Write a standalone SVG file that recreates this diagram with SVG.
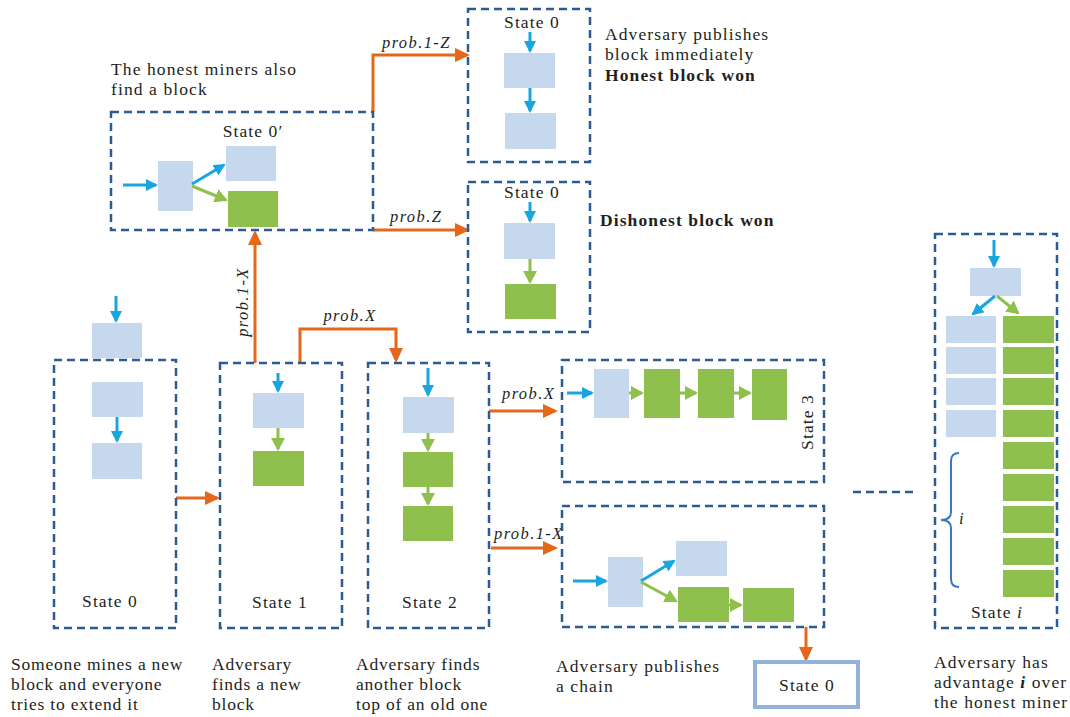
<svg xmlns="http://www.w3.org/2000/svg" width="1070" height="717" viewBox="0 0 1070 717" font-family="'Liberation Serif', 'DejaVu Serif', serif">
  <style>
    .frame { fill: none; stroke: #2c5b94; stroke-width: 2.5; stroke-dasharray: 8 5; }
    .bb { fill: #c5d8ee; }
    .gb { fill: #8fbf4c; }
    .ba { fill: none; stroke: #18a6e0; stroke-width: 3; marker-end: url(#ah-b); }
    .ga { fill: none; stroke: #8fbf4c; stroke-width: 3; marker-end: url(#ah-g); }
    .oa { fill: none; stroke: #e5671a; stroke-width: 3; marker-end: url(#ah-o); }
    text { font-family: 'Liberation Serif', 'DejaVu Serif', serif; font-size: 17.5px; fill: #231f20; letter-spacing: 1.1px; }
    .lbl { text-anchor: middle; }
    .p { font-style: italic; font-size: 16.5px; letter-spacing: 1.4px; }
    .b { font-weight: bold; }
    #captions text { letter-spacing: 0.8px; }
  </style>
  <defs>
    <marker id="ah-o" markerUnits="userSpaceOnUse" markerWidth="16" markerHeight="14" refX="12" refY="7" orient="auto">
      <path d="M0,0 L15,7 L0,14 z" fill="#e5671a"/>
    </marker>
    <marker id="ah-b" markerUnits="userSpaceOnUse" markerWidth="13" markerHeight="12" refX="10" refY="6" orient="auto">
      <path d="M0,0 L12,6 L0,12 z" fill="#18a6e0"/>
    </marker>
    <marker id="ah-g" markerUnits="userSpaceOnUse" markerWidth="14" markerHeight="14" refX="11" refY="7" orient="auto">
      <path d="M0,0 L13,7 L0,14 z" fill="#8fbf4c"/>
    </marker>
  </defs>

  <!-- transitions between states -->
  <g id="connectors">
    <path class="oa" d="M176,498 H217"/>
    <path class="oa" d="M255,363 V233"/>
    <path class="oa" d="M300,363 V329 H396 V360"/>
    <path class="oa" d="M373,112 V55 H467"/>
    <path class="oa" d="M373,230 H467"/>
    <path class="oa" d="M489,411 H555"/>
    <path class="oa" d="M491,548 H555"/>
    <path class="oa" d="M806,627 V659"/>
    <path d="M853,492 H913" fill="none" stroke="#2c5b94" stroke-width="2.5" stroke-dasharray="8 5"/>
    <text class="p" x="382" y="48">prob.1-Z</text>
    <text class="p" x="390" y="222">prob.Z</text>
    <text class="p lbl" transform="translate(248,302) rotate(-90)">prob.1-X</text>
    <text class="p lbl" x="350" y="321">prob.X</text>
    <text class="p" x="502" y="399">prob.X</text>
    <text class="p" x="494" y="539">prob.1-X</text>
  </g>

  <!-- State 0: start -->
  <g id="state0-start">
    <rect class="frame" x="54" y="360" width="122" height="268"/>
    <path class="ba" d="M116,296 V321"/>
    <rect class="bb" x="92" y="323" width="50" height="35"/>
    <rect class="bb" x="92" y="382" width="51" height="35"/>
    <path class="ba" d="M117,417 V441"/>
    <rect class="bb" x="92" y="443" width="50" height="36"/>
    <text class="lbl" x="110" y="607">State 0</text>
  </g>

  <!-- State 1 -->
  <g id="state1">
    <rect class="frame" x="220" y="363" width="122" height="265"/>
    <path class="ba" d="M278,373 V391"/>
    <rect class="bb" x="253" y="393" width="51" height="35"/>
    <path class="ga" d="M278,428 V449"/>
    <rect class="gb" x="253" y="451" width="51" height="35"/>
    <text class="lbl" x="280" y="608">State 1</text>
  </g>

  <!-- State 2 -->
  <g id="state2">
    <rect class="frame" x="368" y="363" width="121" height="265"/>
    <path class="ba" d="M428,368 V395"/>
    <rect class="bb" x="403" y="397" width="51" height="36"/>
    <path class="ga" d="M428,433 V450"/>
    <rect class="gb" x="403" y="452" width="50" height="35"/>
    <path class="ga" d="M428,487 V504"/>
    <rect class="gb" x="403" y="506" width="50" height="35"/>
    <text class="lbl" x="430" y="608">State 2</text>
  </g>

  <!-- State 0': honest miners also find a block -->
  <g id="state0-prime">
    <rect class="frame" x="111" y="112" width="262" height="118"/>
    <text class="lbl" x="253" y="137">State 0′</text>
    <path class="ba" d="M123,185 H156"/>
    <rect class="bb" x="158" y="161" width="35" height="50"/>
    <path class="ba" d="M192,184 L224,165"/>
    <rect class="bb" x="226" y="146" width="50" height="35"/>
    <path class="ga" d="M192,186 L226,200"/>
    <rect class="gb" x="228" y="191" width="50" height="36"/>
    <text x="111" y="75">The honest miners also</text>
    <text x="111" y="95">find a block</text>
  </g>

  <!-- State 0: honest block won -->
  <g id="state0-honest">
    <rect class="frame" x="468" y="9" width="122" height="153"/>
    <text class="lbl" x="532" y="28">State 0</text>
    <path class="ba" d="M530,32 V51"/>
    <rect class="bb" x="504" y="53" width="51" height="35"/>
    <path class="ba" d="M530,88 V111"/>
    <rect class="bb" x="505" y="113" width="51" height="36"/>
    <text x="605" y="40">Adversary publishes</text>
    <text x="605" y="60">block immediately</text>
    <text class="b" x="605" y="81">Honest block won</text>
  </g>

  <!-- State 0: dishonest block won -->
  <g id="state0-dishonest">
    <rect class="frame" x="468" y="182" width="122" height="150"/>
    <text class="lbl" x="532" y="198">State 0</text>
    <path class="ba" d="M530,202 V221"/>
    <rect class="bb" x="504" y="223" width="51" height="36"/>
    <path class="ga" d="M530,259 V282"/>
    <rect class="gb" x="505" y="284" width="51" height="35"/>
    <text class="b" x="600" y="226">Dishonest block won</text>
  </g>

  <!-- State 3 -->
  <g id="state3">
    <rect class="frame" x="562" y="360" width="262" height="122"/>
    <path class="ba" d="M567,393 H592"/>
    <rect class="bb" x="594" y="369" width="35" height="49"/>
    <path class="ga" d="M629,393 H642"/>
    <rect class="gb" x="644" y="369" width="36" height="49"/>
    <path class="ga" d="M680,393 H696"/>
    <rect class="gb" x="698" y="369" width="36" height="49"/>
    <path class="ga" d="M734,393 H750"/>
    <rect class="gb" x="752" y="369" width="35" height="51"/>
    <text class="lbl" transform="translate(813,422) rotate(-90)">State 3</text>
  </g>

  <!-- adversary publishes a chain -->
  <g id="publish-chain">
    <rect class="frame" x="562" y="506" width="262" height="121"/>
    <path class="ba" d="M573,581 H606"/>
    <rect class="bb" x="608" y="557" width="35" height="50"/>
    <path class="ba" d="M641,581 L674,561"/>
    <rect class="bb" x="676" y="541" width="51" height="35"/>
    <path class="ga" d="M641,582 L676,601"/>
    <rect class="gb" x="678" y="587" width="51" height="35"/>
    <path class="ga" d="M729,605 H741"/>
    <rect class="gb" x="743" y="588" width="51" height="34"/>
    <text x="556" y="672">Adversary publishes</text>
    <text x="556" y="692">a chain</text>
  </g>

  <!-- return to State 0 -->
  <g id="state0-return">
    <rect x="755" y="662" width="103" height="45" fill="#fff" stroke="#92b2dc" stroke-width="4"/>
    <text class="lbl" x="807" y="691">State 0</text>
  </g>

  <!-- State i -->
  <g id="state-i">
    <rect class="frame" x="935" y="234" width="122" height="394"/>
    <path class="ba" d="M994,240 V266"/>
    <rect class="bb" x="970" y="268" width="51" height="28"/>
    <path class="ba" d="M995,296 L973,314"/>
    <path class="ga" d="M997,296 L1018,313"/>
    <rect class="bb" x="946" y="316" width="50" height="27"/>
    <rect class="bb" x="946" y="347" width="50" height="27"/>
    <rect class="bb" x="946" y="378" width="50" height="27"/>
    <rect class="bb" x="946" y="410" width="50" height="27"/>
    <rect class="gb" x="1003" y="316" width="51" height="27"/>
    <rect class="gb" x="1003" y="347" width="51" height="27"/>
    <rect class="gb" x="1003" y="378" width="51" height="27"/>
    <rect class="gb" x="1003" y="410" width="51" height="27"/>
    <rect class="gb" x="1003" y="442" width="51" height="27"/>
    <rect class="gb" x="1003" y="474" width="51" height="27"/>
    <rect class="gb" x="1003" y="506" width="51" height="27"/>
    <rect class="gb" x="1003" y="538" width="51" height="27"/>
    <rect class="gb" x="1003" y="570" width="51" height="27"/>
    <path d="M959,453 Q951,453 951,461 V512 Q951,520 941,520 Q951,520 951,528 V579 Q951,587 959,587" fill="none" stroke="#3a78c4" stroke-width="2"/>
    <text class="p" x="959" y="524">i</text>
    <text class="lbl" x="997" y="618">State <tspan font-style="italic">i</tspan></text>
    <text x="934" y="668">Adversary has</text>
    <text x="934" y="688">advantage <tspan font-weight="bold" font-style="italic">i</tspan> over</text>
    <text x="934" y="708">the honest miner</text>
  </g>

  <!-- captions under the start states -->
  <g id="captions">
    <text x="11" y="670">Someone mines a new</text>
    <text x="11" y="690">block and everyone</text>
    <text x="11" y="710">tries to extend it</text>
    <text x="212" y="670">Adversary</text>
    <text x="212" y="690">finds a new</text>
    <text x="212" y="710">block</text>
    <text x="356" y="670">Adversary finds</text>
    <text x="356" y="690">another block</text>
    <text x="356" y="710">top of an old one</text>
  </g>
</svg>
